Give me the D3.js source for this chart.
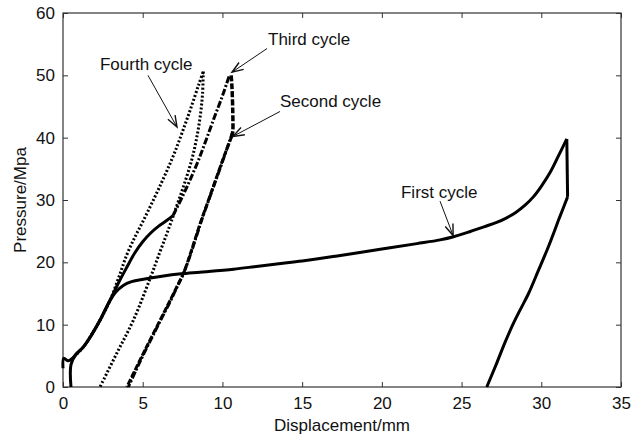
<!DOCTYPE html>
<html>
<head>
<meta charset="utf-8">
<script src="https://cdn.jsdelivr.net/npm/d3@7"></script>
<style>
  body { margin: 0; background: #fff; }
  text { font-family: "Liberation Sans", Arial, sans-serif; }
</style>
</head>
<body>
<div id="container"></div>
<script>
/* CONSTANTS AND GLOBALS */
const margin = {top: 13, right: 11, bottom: 52, left: 63}
const width = 632 - margin.left - margin.right
const height = 439 - margin.top - margin.bottom

/* DATA (displacement mm, pressure MPa) */
const xTicks = [0, 5, 10, 15, 20, 25, 30, 35]
const yTicks = [0, 10, 20, 30, 40, 50, 60]

// first cycle: loading, then unloading after the drop
const firstLoad = [
  [0, 3.0], [0.05, 4.6], [0.3, 4.2], [0.5, 4.4], [0.8, 5.2], [1.27, 6.4], [1.8, 8.4],
  [2.32, 10.7], [2.65, 12.4], [2.95, 13.9], [3.3, 15.2], [3.78, 16.3], [4.3, 16.9],
  [5.04, 17.3], [6, 17.7], [7.55, 18.2], [9, 18.5], [10.7, 18.9], [12, 19.3],
  [13.4, 19.75], [15, 20.2], [17.4, 21.1], [19.9, 22.1], [22.2, 23.0], [23.65, 23.6],
  [24.5, 24.1], [25.5, 24.9], [26.4, 25.7], [27.2, 26.4], [27.8, 27.1], [28.4, 28.0],
  [29, 29.2], [29.5, 30.5], [30, 32.2], [30.55, 34.4], [31.1, 37.2], [31.6, 39.8]
]
const firstDrop = [[31.6, 39.8], [31.65, 30.5]]
const firstUnload = [
  [31.65, 30.5], [31.3, 28.2], [31.07, 26.7], [30.6, 23.5], [30.35, 21.9], [29.82, 18.7],
  [29.2, 15.0], [28.7, 12.5], [28.25, 10.2], [27.7, 7.0], [27.2, 3.8], [26.58, 0]
]

// second cycle
const secondBase = [
  [0.5, 0], [0.5, 3.6], [0.8, 5.2], [1.27, 6.4], [1.8, 8.4], [2.32, 10.7], [2.65, 12.4],
  [2.95, 13.9], [3.5, 16.8], [4.0, 19.2], [4.5, 21.5], [5.0, 23.3], [5.5, 24.7],
  [6.0, 25.8], [6.5, 26.7], [6.9, 27.5]
]
const secondHold = [[10.55, 50.0], [10.6, 48], [10.65, 44], [10.65, 41], [10.6, 40.3]]
const secondUnload = [
  [10.6, 40.3], [10.1, 37], [9.6, 33.4], [9.1, 29.8], [8.6, 26.2], [8.07, 22],
  [7.55, 18.2], [7.13, 16.0], [6.6, 13.3], [6.09, 10.7], [5.55, 8], [5.04, 5.4],
  [4.5, 2.6], [4.0, 0]
]

// third cycle
const thirdLoad = [
  [6.9, 27.5], [7.5, 30.6], [8, 33.4], [8.5, 36.4], [9, 39.8], [9.5, 43.3],
  [10, 46.7], [10.45, 50.1]
]
const thirdUnload = [
  [10.65, 41.0], [10.2, 37.6], [9.7, 34.0], [9.2, 30.4], [8.7, 26.8], [8.17, 22.6],
  [7.65, 18.8], [7.22, 16.4], [6.7, 13.6], [6.18, 11.0], [5.65, 8.3], [5.12, 5.6],
  [4.6, 2.8], [4.1, 0]
]

// fourth cycle
const fourthLoad = [
  [0.5, 4.4], [1.27, 6.4], [2.32, 10.7], [2.95, 13.9], [3.5, 17.6], [4, 21.2],
  [4.5, 24], [5, 26.5], [5.5, 29.1], [6, 31.8], [6.5, 34.6], [7, 37.6], [7.5, 41],
  [8, 44.6], [8.5, 48.4], [8.8, 50.6]
]
const fourthUnload = [
  [8.8, 50.6], [8.75, 47], [8.6, 43.3], [8.35, 39.5], [8.07, 36.4], [7.6, 32.5],
  [7.1, 28.8], [6.6, 25.2], [6.1, 21.8], [5.46, 17.4], [4.41, 10.7], [3.37, 5.4],
  [2.32, 0]
]

// annotations: label, text anchor point, arrow start, arrow tip
const noteLabels = ["Fourth cycle", "Third cycle", "Second cycle", "First cycle"]
const noteText = [[2.32, 50.8], [12.86, 54.8], [13.61, 44.9], [21.2, 30.4]]
const noteFrom = [[5.33, 50.0], [12.8, 54.3], [13.61, 44.2], [23.65, 29.8]]
const noteTo = [[7.15, 41.7], [10.6, 50.5], [10.66, 40.2], [24.47, 24.3]]

/* CREATE SVG ELEMENT */
const svg = d3.select("#container")
  .append("svg")
    .attr("width", width + margin.left + margin.right)
    .attr("height", height + margin.top + margin.bottom)
  .append("g")
    .attr("transform", "translate(" + margin.left + "," + margin.top + ")")

/* SCALES */
const xScale = d3.scaleLinear().domain([0, 35]).range([0, width])
const yScale = d3.scaleLinear().domain([0, 60]).range([height, 0])

// AXES (matlab style: ticks inside on all four sides)
svg.append("g")
  .attr("transform", "translate(0," + height + ")")
  .call(d3.axisBottom(xScale).tickValues(xTicks).tickSizeInner(-5).tickSizeOuter(0).tickPadding(10))
svg.append("g")
  .call(d3.axisLeft(yScale).tickValues(yTicks).tickSizeInner(-5).tickSizeOuter(0).tickPadding(8))
svg.append("g")
  .call(d3.axisTop(xScale).tickValues(xTicks).tickSizeInner(-5).tickSizeOuter(0).tickFormat(""))
svg.append("g")
  .attr("transform", "translate(" + width + ",0)")
  .call(d3.axisRight(yScale).tickValues(yTicks).tickSizeInner(-5).tickSizeOuter(0).tickFormat(""))

svg.selectAll(".domain").remove()
svg.selectAll(".tick line").attr("stroke", "#333")
svg.selectAll(".tick text").style("font-size", "17px").attr("fill", "#111")

svg.append("rect")
  .attr("width", width)
  .attr("height", height)
  .attr("fill", "none")
  .attr("stroke", "#333")
  .attr("stroke-width", 1.2)

// LINE GENERATOR
const line = d3.line()
  .x(d => xScale(d[0]))
  .y(d => yScale(d[1]))
  .curve(d3.curveCatmullRom.alpha(0.5))

function drawCurve(pts, dash, w) {
  svg.append("path")
    .datum(pts)
    .attr("fill", "none")
    .attr("stroke", "#000")
    .attr("stroke-width", w)
    .attr("stroke-linejoin", "round")
    .attr("stroke-dasharray", dash)
    .attr("d", line)
}

drawCurve(firstLoad, null, 3)
drawCurve(firstDrop, null, 3)
drawCurve(firstUnload, null, 3)
drawCurve(secondBase, null, 3)
drawCurve(secondHold, "6,2", 3.5)
drawCurve(secondUnload, "6,2", 3)
drawCurve(thirdLoad, "7,2,2,2", 3)
drawCurve(thirdUnload, "7,2,2,2", 3)
drawCurve(fourthLoad, "2,2", 3)
drawCurve(fourthUnload, "2,2", 3)

// ANNOTATIONS
noteLabels.forEach((lab, i) => {
  svg.append("text")
    .attr("x", xScale(noteText[i][0]))
    .attr("y", yScale(noteText[i][1]))
    .style("font-size", "17px")
    .attr("fill", "#111")
    .text(lab)

  const x0 = xScale(noteFrom[i][0]), y0 = yScale(noteFrom[i][1])
  const x1 = xScale(noteTo[i][0]), y1 = yScale(noteTo[i][1])
  const a = Math.atan2(y1 - y0, x1 - x0)
  const len = 12, spread = 0.35
  svg.append("line")
    .attr("x1", x0).attr("y1", y0).attr("x2", x1).attr("y2", y1)
    .attr("stroke", "#111").attr("stroke-width", 1)
  svg.append("path")
    .attr("d", "M" + (x1 - len * Math.cos(a - spread)) + "," + (y1 - len * Math.sin(a - spread)) +
      "L" + x1 + "," + y1 +
      "L" + (x1 - len * Math.cos(a + spread)) + "," + (y1 - len * Math.sin(a + spread)))
    .attr("fill", "none")
    .attr("stroke", "#111")
    .attr("stroke-width", 1.4)
})

// AXIS LABELS
svg.append("text")
  .attr("x", width / 2)
  .attr("y", height + 44)
  .attr("text-anchor", "middle")
  .style("font-size", "17px")
  .attr("fill", "#111")
  .text("Displacement/mm")

svg.append("text")
  .attr("transform", "rotate(-90)")
  .attr("x", -height / 2)
  .attr("y", 26 - margin.left)
  .attr("text-anchor", "middle")
  .style("font-size", "17px")
  .attr("fill", "#111")
  .text("Pressure/Mpa")
</script>
</body>
</html>
